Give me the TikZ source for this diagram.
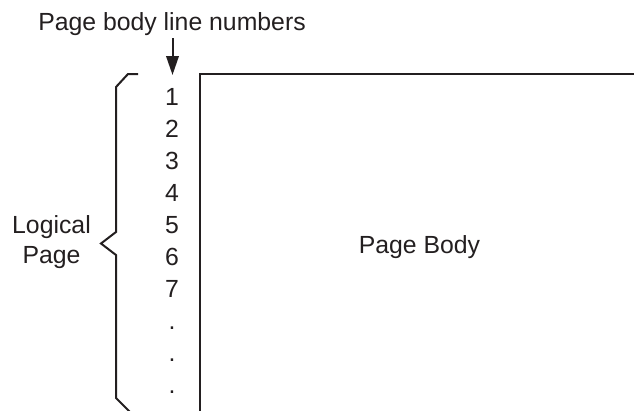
\documentclass[tikz,border=0pt]{standalone}
\usepackage{fontspec}
\setmainfont{Liberation Sans}
\usetikzlibrary{arrows.meta}
\definecolor{ink}{HTML}{231F20}
\tikzset{
  lbl/.style={inner sep=0pt, anchor=base, text=ink, font=\fontsize{24.8}{30}\selectfont},
  num/.style={lbl},
  stroke/.style={draw=ink, line width=2pt, line join=miter},
}
\begin{document}
\begin{tikzpicture}[x=1pt,y=-1pt]
\useasboundingbox (0,0) rectangle (634,410);
\clip (0,0) rectangle (634,410);
% title and arrow
\node[lbl] (title) at (172,30) {Page body line numbers};
\coordinate (arrowtip) at (172.5,75);
\draw[stroke, -{Triangle[length=19pt,width=12.5pt]}, shorten <=3pt] (title.south -| arrowtip) -- (arrowtip);
% line numbers
\node[num] (n1) at (172,105) {1};
\node[num] (n2) at (172,137) {2};
\node[num] (n3) at (172,169) {3};
\node[num] (n4) at (172,201) {4};
\node[num] (n5) at (172,233) {5};
\node[num] (n6) at (172,265) {6};
\node[num] (n7) at (172,297) {7};
\node[num] (d1) at (172,329) {.};
\node[num] (d2) at (172,361) {.};
\node[num] (d3) at (172,393) {.};
% page body frame
\draw[stroke] (200,420) -- (200,74) -- (640,74);
\node[lbl] (body) at (419.5,253) {Page Body};
% brace
\draw[stroke] (138,74) -- (128,74) -- (116,87) -- (116,232) -- (101,243.5) -- (116,255) -- (116,398) -- (130,412);
\node[lbl] (logical) at (51.5,233) {Logical};
\node[lbl] (page) at (51.5,263) {Page};
\end{tikzpicture}
\end{document}
